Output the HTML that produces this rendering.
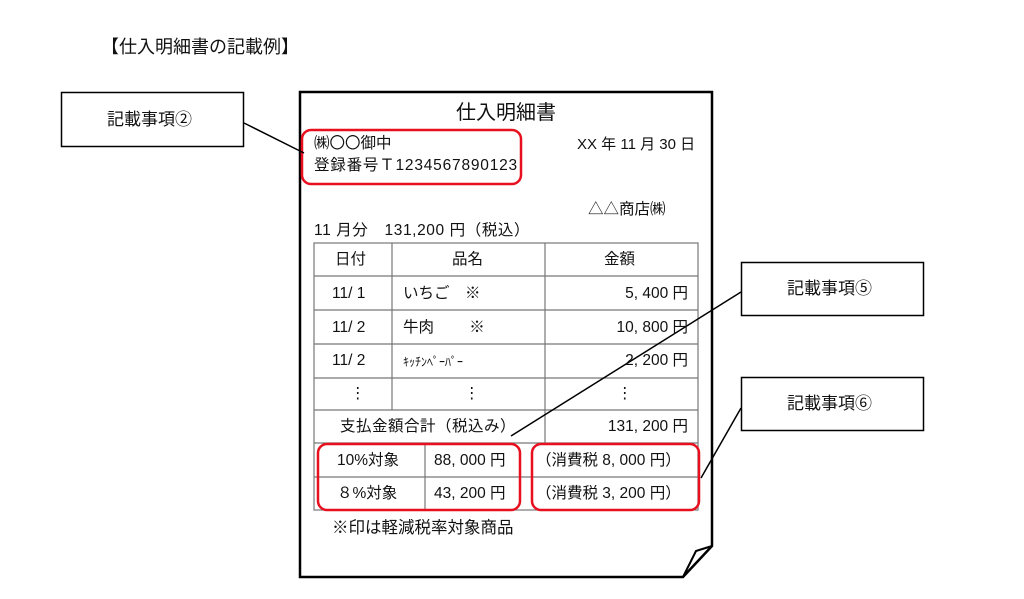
<!DOCTYPE html>
<html><head><meta charset="utf-8"><style>
body{margin:0;width:1024px;height:599px;background:#fff;position:relative;overflow:hidden;font-family:"Liberation Sans","Noto Sans CJK JP",sans-serif;color:#111}
.t{position:absolute;white-space:nowrap;font-size:15.5px;line-height:18px}
.r{position:absolute;white-space:nowrap;font-size:15.5px;line-height:18px;right:336px}
</style></head><body>
<svg width="1024" height="599" style="position:absolute;left:0;top:0">
<path d="M300,92 L712,92 L712,546 L683,577 L300,577 Z" fill="#fff" stroke="#000" stroke-width="2.5"/>
<path d="M712,546 L696,551 L683,577" fill="none" stroke="#000" stroke-width="2"/>
<rect x="61.5" y="92.5" width="182" height="54" fill="#fff" stroke="#000" stroke-width="1.5"/>
<rect x="741.5" y="262.5" width="182" height="53" fill="#fff" stroke="#000" stroke-width="1.5"/>
<rect x="741.5" y="377.5" width="182" height="53" fill="#fff" stroke="#000" stroke-width="1.5"/>
<g stroke="#777" stroke-width="1.2" fill="none">
<rect x="314" y="243" width="384" height="267"/>
<line x1="314" y1="276" x2="698" y2="276"/>
<line x1="314" y1="310" x2="698" y2="310"/>
<line x1="314" y1="344" x2="698" y2="344"/>
<line x1="314" y1="378" x2="698" y2="378"/>
<line x1="314" y1="410" x2="698" y2="410"/>
<line x1="314" y1="443" x2="698" y2="443"/>
<line x1="314" y1="477" x2="698" y2="477"/>
<line x1="392" y1="243" x2="392" y2="410"/>
<line x1="545" y1="243" x2="545" y2="443"/>
<line x1="425" y1="443" x2="425" y2="510"/>
</g>
<g stroke="#e8101e" stroke-width="2.5" fill="none">
<rect x="302" y="130" width="219" height="54" rx="9"/>
<rect x="318" y="444" width="202" height="66" rx="9"/>
<rect x="532" y="444" width="167" height="66" rx="9"/>
</g>
<g stroke="#000" stroke-width="1.5">
<line x1="244" y1="123" x2="304" y2="153"/>
<line x1="741" y1="292" x2="511" y2="436"/>
<line x1="741" y1="408" x2="701" y2="478"/>
</g>
</svg>
<div class="t" style="left:101px;top:37px;font-size:18px;line-height:20px">【仕入明細書の記載例】</div>
<div class="t" style="left:107px;top:110px;font-size:17px;line-height:20px">記載事項②</div>
<div class="t" style="left:787px;top:279px;font-size:17px;line-height:20px">記載事項⑤</div>
<div class="t" style="left:787px;top:394px;font-size:17px;line-height:20px">記載事項⑥</div>
<div class="t" style="left:456px;top:102px;font-size:20px;line-height:22px">仕入明細書</div>
<div class="t" style="left:314px;top:135px">㈱〇〇御中</div>
<div class="t" style="left:314px;top:157px;letter-spacing:0.8px">登録番号Ｔ1234567890123</div>
<div class="t" style="left:577px;top:136px;font-size:15px">XX 年 11 月 30 日</div>
<div class="t" style="left:588px;top:201px">△△商店㈱</div>
<div class="t" style="left:314px;top:222px;letter-spacing:0.6px">11 月分　131,200 円（税込）</div>
<div class="t" style="left:335px;top:251px">日付</div>
<div class="t" style="left:452px;top:251px">品名</div>
<div class="t" style="left:604px;top:251px">金額</div>
<div class="t" style="left:332px;top:285px">11/ 1</div>
<div class="t" style="left:403px;top:285px">いちご　※</div>
<div class="r" style="top:285px">5, 400 円</div>
<div class="t" style="left:332px;top:319px">11/ 2</div>
<div class="t" style="left:403px;top:319px">牛肉　　 ※</div>
<div class="r" style="top:319px">10, 800 円</div>
<div class="t" style="left:332px;top:352px">11/ 2</div>
<div class="t" style="left:403px;top:353px;font-size:12px">ｷｯﾁﾝﾍﾟｰﾊﾟｰ</div>
<div class="r" style="top:352px">2, 200 円</div>
<div class="t" style="left:350px;top:385px">⋮</div>
<div class="t" style="left:464px;top:385px">⋮</div>
<div class="t" style="left:617px;top:385px">⋮</div>
<div class="t" style="left:340px;top:418px;letter-spacing:0.5px">支払金額合計（税込み）</div>
<div class="r" style="top:418px">131, 200 円</div>
<div class="t" style="left:337px;top:452px">10%対象</div>
<div class="t" style="left:434px;top:452px">88, 000 円</div>
<div class="t" style="left:536px;top:452px">（消費税 8, 000 円）</div>
<div class="t" style="left:337px;top:485px">８%対象</div>
<div class="t" style="left:434px;top:485px">43, 200 円</div>
<div class="t" style="left:536px;top:485px">（消費税 3, 200 円）</div>
<div class="t" style="left:332px;top:519px;font-size:16.5px">※印は軽減税率対象商品</div>
</body></html>
